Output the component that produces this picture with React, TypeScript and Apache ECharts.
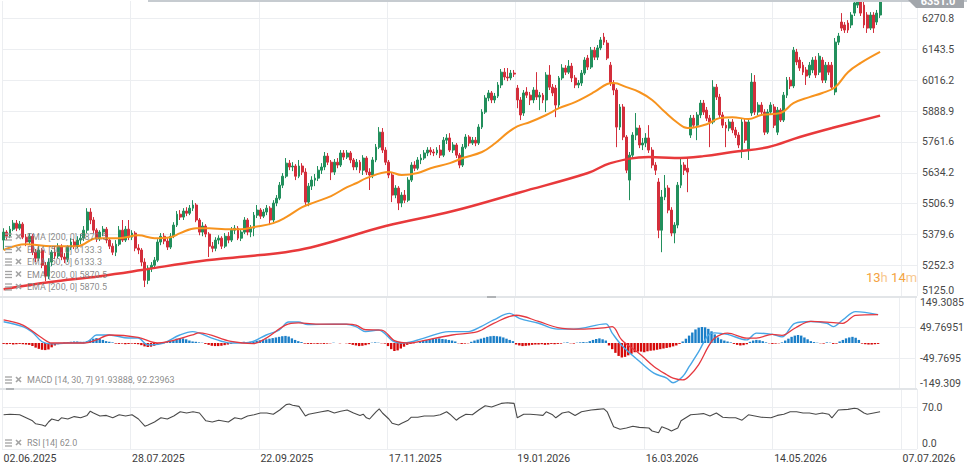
import React, { useEffect, useRef } from "react";
import * as echarts from "echarts";

const xTickLabels = ["02.06.2025", "28.07.2025", "22.09.2025", "17.11.2025", "19.01.2026", "16.03.2026", "14.05.2026", "07.07.2026"];
const priceTicks = [5125.0, 5252.3, 5379.6, 5506.9, 5634.2, 5761.6, 5888.9, 6016.2, 6143.5, 6270.8];
const macdTickLabels = ["-149.309", "-49.7695", "49.76951", "149.3085"];
const rsiTicks = [0, 70];
const holidays = ["2025-12-24", "2025-12-25", "2025-12-26", "2025-12-31", "2026-01-01", "2026-04-03", "2026-04-06", "2026-05-01"];

// [open, close, low, high]
const candles = [
  [5356,5389,5315,5405],[5389,5372,5356,5397],[5372,5401,5364,5414],[5401,5426,5393,5439],[5426,5405,5393,5439],
  [5405,5422,5397,5435],[5422,5368,5360,5430],[5368,5348,5331,5381],[5348,5372,5335,5385],[5372,5306,5294,5381],
  [5306,5281,5265,5319],[5281,5315,5269,5331],[5315,5252,5240,5323],[5252,5207,5186,5265],[5207,5265,5195,5281],
  [5265,5306,5248,5315],[5306,5290,5277,5327],[5290,5331,5281,5343],[5331,5286,5273,5339],[5286,5277,5261,5302],
  [5277,5327,5265,5335],[5327,5348,5315,5364],[5348,5331,5319,5360],[5331,5356,5323,5372],[5356,5364,5339,5381],
  [5364,5397,5352,5414],[5397,5472,5385,5488],[5472,5439,5422,5488],[5439,5397,5385,5451],[5397,5364,5348,5405],
  [5364,5389,5352,5397],[5389,5401,5372,5414],[5401,5356,5343,5410],[5356,5331,5319,5364],[5331,5306,5294,5343],
  [5306,5339,5290,5356],[5339,5397,5331,5414],[5397,5356,5348,5439],[5356,5401,5348,5414],[5401,5368,5356,5439],
  [5368,5385,5356,5397],[5385,5323,5310,5393],[5323,5315,5298,5339],[5315,5265,5248,5323],[5265,5190,5162,5281],
  [5190,5240,5174,5252],[5240,5252,5224,5265],[5252,5273,5240,5286],[5273,5348,5265,5360],[5348,5372,5335,5385],
  [5372,5352,5339,5385],[5352,5327,5315,5364],[5327,5372,5319,5385],[5372,5418,5364,5430],[5418,5463,5410,5476],
  [5463,5451,5439,5480],[5451,5476,5439,5488],[5476,5467,5455,5492],[5467,5488,5459,5501],[5488,5501,5476,5521],
  [5501,5439,5430,5509],[5439,5389,5376,5447],[5389,5414,5372,5430],[5414,5381,5368,5422],[5381,5331,5286,5389],
  [5331,5322,5306,5348],[5322,5356,5310,5368],[5356,5364,5339,5376],[5364,5331,5319,5372],[5331,5372,5323,5385],
  [5372,5356,5343,5389],[5356,5397,5348,5410],[5397,5405,5381,5418],[5405,5364,5356,5414],[5364,5389,5352,5401],
  [5389,5439,5381,5451],[5439,5389,5376,5447],[5389,5405,5368,5418],[5405,5459,5372,5472],[5459,5480,5447,5501],
  [5480,5455,5443,5488],[5455,5472,5447,5484],[5472,5488,5459,5501],[5488,5439,5418,5496],[5439,5509,5430,5521],
  [5509,5529,5496,5542],[5529,5583,5521,5596],[5583,5620,5571,5633],[5620,5674,5612,5695],[5674,5658,5645,5687],
  [5658,5662,5641,5678],[5662,5620,5604,5670],[5620,5662,5612,5687],[5662,5637,5625,5674],[5637,5513,5501,5653],
  [5513,5579,5496,5592],[5579,5604,5563,5620],[5604,5612,5579,5629],[5612,5645,5600,5662],[5645,5658,5629,5674],
  [5658,5703,5645,5720],[5703,5678,5666,5716],[5678,5637,5604,5687],[5637,5678,5625,5691],[5678,5666,5653,5695],
  [5666,5716,5658,5728],[5716,5699,5687,5728],[5699,5716,5691,5728],[5716,5687,5674,5724],[5687,5658,5645,5695],
  [5658,5678,5645,5691],[5678,5645,5633,5687],[5645,5695,5625,5707],[5695,5637,5625,5703],[5637,5625,5563,5653],
  [5625,5687,5612,5699],[5687,5740,5678,5753],[5740,5802,5732,5823],[5802,5728,5716,5819],[5728,5678,5666,5740],
  [5678,5625,5612,5687],[5625,5542,5513,5637],[5542,5571,5529,5583],[5571,5509,5480,5579],[5509,5542,5492,5554],
  [5542,5521,5509,5563],[5521,5604,5513,5616],[5604,5666,5596,5678],[5666,5653,5641,5682],[5653,5687,5645,5699],
  [5687,5695,5670,5711],[5695,5716,5687,5728],[5716,5728,5703,5740],[5728,5720,5707,5740],[5720,5716,5703,5732],
  [5716,5728,5707,5740],[5728,5707,5695,5749],[5707,5769,5699,5782],[5769,5778,5753,5794],[5778,5728,5720,5798],
  [5728,5749,5716,5761],[5749,5707,5695,5757],[5707,5666,5653,5716],[5666,5740,5658,5753],[5740,5782,5732,5794],
  [5782,5757,5744,5790],[5757,5769,5749,5782],[5769,5757,5744,5782],[5757,5823,5749,5835],[5823,5885,5815,5897],
  [5885,5943,5877,5955],[5943,5964,5930,5976],[5964,5935,5922,5972],[5935,5951,5922,5964],[5951,5997,5943,6009],
  [5997,6050,5984,6063],[6050,6030,6017,6067],[6030,6026,6013,6067],[6026,6046,6017,6059],[6046,6042,6030,6059],
  [5984,5935,5901,5997],[5935,5873,5852,5947],[5881,5964,5869,5976],[5968,5955,5943,5988],[5955,5935,5914,5968],
  [5935,5976,5922,5988],[5976,5947,5935,6050],[5947,5955,5893,5968],[5955,5935,5922,5964],[5935,6038,5885,6050],
  [6038,5988,5976,6079],[5988,5964,5951,6001],[5984,5914,5864,5997],[5914,6026,5901,6034],[6026,6067,6017,6083],
  [6067,6050,6038,6079],[6050,6075,6042,6100],[6075,6026,6009,6088],[6026,5997,5984,6038],[5997,6005,5984,6017],
  [6005,6046,5993,6059],[6046,6100,6038,6112],[6108,6071,6059,6121],[6071,6141,6063,6154],[6141,6112,6100,6154],
  [6112,6150,6100,6162],[6150,6183,6141,6195],[6195,6174,6162,6212],[6170,6108,6100,6183],[6079,6005,5993,6092],
  [6005,5976,5955,6017],[5976,5823,5740,5984],[5823,5906,5811,5918],[5906,5782,5769,5918],[5782,5645,5633,5790],
  [5604,5707,5521,5720],[5707,5790,5695,5802],[5790,5819,5769,5881],[5819,5749,5736,5831],[5749,5757,5728,5778],
  [5757,5778,5740,5798],[5778,5728,5716,5831],[5728,5666,5653,5740],[5666,5645,5625,5678],[5596,5397,5364,5612],
  [5397,5534,5306,5563],[5534,5571,5521,5625],[5571,5480,5467,5583],[5480,5385,5372,5492],[5385,5418,5343,5430],
  [5418,5583,5405,5596],[5583,5666,5571,5695],[5666,5645,5625,5678],[5653,5637,5554,5695],[5790,5860,5778,5873],
  [5860,5831,5819,5873],[5831,5873,5769,5885],[5873,5922,5860,5935],[5922,5885,5873,5935],[5893,5860,5848,5906],
  [5860,5844,5740,5873],[5844,5988,5835,6017],[5988,5947,5935,6001],[5947,5873,5860,5960],[5873,5831,5819,5885],
  [5831,5819,5740,5844],[5819,5844,5806,5856],[5844,5811,5798,5856],[5811,5790,5778,5823],[5790,5749,5736,5802],
  [5728,5844,5695,5856],[5844,5769,5757,5856],[5728,5844,5687,5856],[5881,6009,5869,6046],[6009,5885,5873,6038],
  [5885,5914,5873,5926],[5914,5885,5873,5926],[5885,5802,5790,5897],[5802,5885,5794,5897],[5885,5914,5873,5926],
  [5906,5831,5819,5918],[5802,5893,5790,5906],[5893,5852,5844,5901],[5852,5955,5844,5968],[5955,6017,5943,6030],
  [6017,5993,5980,6030],[5993,6141,5984,6154],[6133,6092,6079,6146],[6100,6067,6055,6112],[6079,6050,6038,6092],
  [6059,6034,5997,6071],[6038,6079,6026,6092],[6059,6100,6046,6112],[6100,6038,6026,6116],[6050,6116,6038,6129],
  [6100,6017,6005,6112],[6017,6079,6005,6092],[6079,6050,6038,6092],[6079,5988,5976,6092],[5968,6174,5955,6191],
  [6174,6199,6162,6212],[6257,6232,6220,6294],[6245,6224,6212,6257],[6253,6224,6212,6265],[6245,6286,6232,6298],
  [6294,6336,6282,6348],[6327,6348,6315,6360],[6340,6294,6282,6356],[6327,6245,6232,6340],[6286,6232,6212,6298],
  [6232,6286,6224,6298],[6286,6232,6212,6298],[6257,6294,6245,6307],[6286,6351,6274,6360]
];

// [bar index, value]
const ema50 = [
  [0,5315],[7,5339],[15,5331],[23,5331],[29,5364],[36,5364],[42,5376],[47,5364],[52,5368],[55,5385],
  [60,5405],[64,5405],[69,5401],[74,5401],[78,5410],[84,5426],[88,5451],[93,5492],[97,5513],[102,5538],
  [107,5575],[110,5592],[113,5612],[120,5637],[124,5625],[129,5633],[133,5653],[139,5674],[143,5695],[149,5720],
  [153,5755],[157,5800],[160,5826],[164,5844],[169,5873],[173,5901],[178,5926],[184,5968],[188,6001],[190,6005],
  [194,5988],[198,5968],[202,5935],[206,5885],[210,5840],[213,5819],[219,5835],[223,5860],[227,5864],[232,5856],
  [236,5873],[242,5881],[246,5922],[251,5947],[255,5964],[259,5988],[263,6050],[267,6088],[273,6133.3]
];
const ema200 = [
  [0,5153],[14,5182],[30,5207],[43,5232],[61,5269],[80,5294],[92,5315],[102,5348],[119,5414],[140,5476],
  [161,5554],[182,5633],[189,5674],[201,5699],[209,5695],[218,5703],[227,5720],[238,5740],[248,5782],[258,5819],
  [273,5870.5]
];
const macdLine = [
  [0,69],[6,53],[9,35],[12,4],[15,-3],[20,0],[25,0],[27,10],[29,26],[33,26],[39,16],[42,16],[45,-6],[49,-3],
  [55,26],[59,37],[65,16],[71,0],[77,3],[82,26],[86,42],[89,68],[92,68],[95,60],[103,61],[107,61],[110,53],
  [113,37],[117,42],[122,4],[125,0],[131,15],[139,37],[145,37],[149,53],[153,75],[158,96],[161,80],[167,64],
  [173,45],[178,45],[188,62],[190,32],[193,-8],[198,-55],[203,-98],[207,-114],[209,-129],[212,-109],[214,-77],
  [217,-28],[220,26],[222,33],[226,28],[232,10],[235,32],[240,28],[243,20],[247,64],[252,70],[257,64],[259,53],
  [262,75],[266,102],[273,91.94]
];
const signalLine = [
  [0,75],[6,58],[12,16],[15,0],[20,0],[25,0],[29,10],[33,26],[42,18],[48,0],[59,26],[61,33],[71,5],[78,-2],
  [82,16],[88,58],[92,65],[99,61],[107,61],[110,58],[113,43],[118,42],[122,8],[127,0],[131,8],[140,26],[148,37],
  [153,64],[160,90],[167,70],[173,50],[180,45],[188,50],[190,53],[193,10],[199,-39],[203,-76],[207,-103],
  [209,-114],[212,-120],[214,-108],[217,-70],[220,-12],[222,16],[226,32],[232,16],[235,16],[240,28],[243,25],
  [247,48],[252,70],[257,68],[262,64],[266,90],[273,92.24]
];
const histogram = [
  -3,-4,-3,-5,-4,-3,-4,-5,-6,
  -10,-15,-19,-22,-23,-21,-14,
  -8,-4,-1,
  2,3,4,5,5,4,4,6,
  10,14,16,14,10,
  6,4,2,
  -2,-3,-2,-4,-3,-2,-3,-4,
  -7,-11,-13,-12,-9,-5,
  -3,-1,
  3,7,10,14,16,15,12,8,
  5,4,2,1,
  -3,-6,-9,-10,-10,-9,-7,-5,-3,
  1,2,3,4,3,4,5,
  7,9,11,12,14,16,18,20,22,23,21,
  15,10,6,3,
  -2,-3,-3,-2,-3,-2,-3,-2,-1,
  1,0,-1,0,-1,
  -3,-6,-8,-10,-9,-7,-4,
  1,2,1,-1,-2,
  -10,-20,-26,-24,-18,-12,-6,
  -3,-1,1,
  4,7,10,12,14,15,15,13,12,10,8,5,
  -1,-3,-2,-1,
  4,8,11,
  14,17,20,22,23,22,21,18,14,10,6,
  -5,-8,-10,-9,-8,
  -6,-5,-5,-4,-6,-5,-3,-4,-3,-2,
  1,2,-1,-2,1,2,3,2,
  6,10,13,15,12,8,
  -8,-20,-32,-42,-47,-45,-40,-35,-30,-28,
  -28,-30,-27,-25,-24,-22,-20,-18,-16,-14,-11,-8,
  -3,5,14,24,34,44,50,52,51,46,38,28,18,
  12,8,5,2,
  -3,-6,-8,-7,-4,
  4,8,10,9,6,
  2,-1,-3,-2,-1,2,
  8,14,20,24,26,24,18,12,
  6,3,1,-1,-2,2,1,-3,-2,
  5,10,15,18,20,17,10,
  -2,-4,-5,-5,-4,-3
];
const rsi = [
  [0,57],[2,58],[5,57],[7,52],[9,47],[10,42],[12,40],[13,38],[14,45],[15,50],[17,47],[18,52],[20,50],[22,54],
  [24,52],[26,56],[27,63],[28,60],[30,55],[32,56],[34,52],[36,57],[38,55],[40,57],[42,50],[44,38],[45,40],
  [47,45],[49,52],[51,50],[53,55],[55,62],[57,60],[59,62],[61,60],[63,47],[65,45],[67,48],[70,45],[72,52],
  [74,50],[76,55],[78,57],[80,60],[82,60],[84,58],[86,65],[88,74],[89,75],[90,73],[92,71],[94,55],[95,58],
  [97,60],[99,62],[101,64],[103,60],[105,63],[107,65],[109,60],[111,56],[112,58],[113,52],[114,50],[115,56],
  [116,62],[117,67],[118,60],[120,50],[121,43],[123,40],[124,43],[126,48],[127,53],[129,53],[131,55],[134,55],
  [136,57],[138,62],[139,58],[141,48],[142,52],[144,58],[146,57],[148,65],[150,72],[152,70],[155,76],[157,77],
  [159,76],[160,52],[162,58],[164,58],[166,57],[168,56],[169,62],[171,57],[172,52],[174,60],[176,62],[178,56],
  [180,62],[183,65],[185,66],[187,67],[188,62],[190,37],[192,33],[194,35],[196,38],[198,36],[201,35],[202,30],
  [204,27],[205,37],[207,33],[208,30],[210,35],[211,47],[214,57],[216,58],[218,59],[220,55],[222,60],[224,53],
  [226,52],[228,52],[230,48],[232,57],[234,55],[236,53],[239,52],[241,56],[243,58],[245,62],[247,62],[249,60],
  [251,60],[253,58],[255,60],[257,58],[258,52],[260,65],[263,66],[265,68],[266,67],[268,60],[269,58],[271,60],
  [273,62]
];

const CATEGORY_COUNT = 285;

function buildDays(n: number): string[] {
  const skip = new Set(holidays);
  const out: string[] = [];
  const d = new Date(Date.UTC(2025, 5, 2));
  while (out.length < n) {
    const wd = d.getUTCDay();
    const iso = d.toISOString().slice(0, 10);
    if (wd !== 0 && wd !== 6 && !skip.has(iso)) {
      out.push(`${iso.slice(8, 10)}.${iso.slice(5, 7)}.${iso.slice(0, 4)}`);
    }
    d.setUTCDate(d.getUTCDate() + 1);
  }
  return out;
}

const FONT = "Roboto, sans-serif";
const GRID_COLOR = "#eceef1";
const UP = "#228f5c";
const DOWN = "#d32e3b";

function legendRow(y: number, text: string) {
  const c = "#a3a3a3";
  return [
    { type: "line", shape: { x1: 5, y1: y - 3, x2: 12, y2: y - 3 }, style: { stroke: c, lineWidth: 1.3 }, z: 20 },
    { type: "line", shape: { x1: 5, y1: y, x2: 12, y2: y }, style: { stroke: c, lineWidth: 1.3 }, z: 20 },
    { type: "line", shape: { x1: 5, y1: y + 3, x2: 12, y2: y + 3 }, style: { stroke: c, lineWidth: 1.3 }, z: 20 },
    { type: "line", shape: { x1: 16, y1: y - 3, x2: 21, y2: y + 2 }, style: { stroke: c, lineWidth: 1.6 }, z: 20 },
    { type: "line", shape: { x1: 21, y1: y - 3, x2: 16, y2: y + 2 }, style: { stroke: c, lineWidth: 1.6 }, z: 20 },
    { type: "text", x: 27, y, style: { text, fill: "rgba(125,125,125,0.9)", fontSize: 9, fontFamily: FONT, verticalAlign: "middle" }, z: 20 },
  ];
}

export default function App() {
  const ref = useRef<HTMLDivElement>(null);
  useEffect(() => {
    if (!ref.current) return;
    const chart = echarts.init(ref.current, undefined, { renderer: "svg" });
    const categories = buildDays(CATEGORY_COUNT);
    const macdTickValues = macdTickLabels.map((s) => parseFloat(s));

    const xAxisFor = (gi: number, showLabel: boolean) => ({
      type: "category",
      gridIndex: gi,
      data: categories,
      boundaryGap: true,
      axisLine: { show: false },
      axisTick: { show: false },
      axisLabel: showLabel
        ? {
            interval: (i: number) => i % 40 === 0,
            formatter: (_v: string, i: number) => xTickLabels[Math.round(i / 40)] ?? "",
            align: "left",
            color: "#3c3c3c",
            fontSize: 10.5,
            fontFamily: FONT,
            margin: 4,
          }
        : { show: false },
      splitLine: { show: true, interval: (i: number) => i % 40 === 0, lineStyle: { color: GRID_COLOR, width: 1 } },
    });

    const yLabelBase = { color: "#474747", fontSize: 10.5, fontFamily: FONT, margin: 5 };

    const graphics: any[] = [
      { type: "line", shape: { x1: 148, y1: 1, x2: 967, y2: 1 }, style: { stroke: "#c6cbd0", lineWidth: 2 }, z: 10 },
      { type: "line", shape: { x1: 0, y1: 297, x2: 917, y2: 297 }, style: { stroke: "#e2e5e8", lineWidth: 2 }, z: 10 },
      { type: "line", shape: { x1: 0, y1: 389, x2: 917, y2: 389 }, style: { stroke: "#e2e5e8", lineWidth: 2 }, z: 10 },
      { type: "line", shape: { x1: 487, y1: 297, x2: 496, y2: 297 }, style: { stroke: "#b0b3b6", lineWidth: 2 }, z: 11 },
      { type: "line", shape: { x1: 6, y1: 389, x2: 14, y2: 389 }, style: { stroke: "#b0b3b6", lineWidth: 2 }, z: 11 },
      {
        type: "polygon",
        shape: { points: [[908, -12], [964, -12], [964, 8], [916, 8], [908, 0]] },
        style: { fill: "#a2a6ab" },
        z: 12,
      },
      { type: "text", x: 938, y: 1, style: { text: "6351.0", fill: "#ffffff", fontSize: 11, fontFamily: FONT, fontWeight: "bold", align: "center", verticalAlign: "middle" }, z: 13 },
      {
        type: "text",
        x: 866,
        y: 277,
        style: {
          text: "{a|13}{b|h} {a|14}{b|m}",
          verticalAlign: "middle",
          rich: {
            a: { fill: "#f4a340", fontSize: 13, fontFamily: FONT },
            b: { fill: "#f8c88f", fontSize: 13, fontFamily: FONT },
          },
        },
        z: 13,
      },
      ...legendRow(237, "EMA [200, 0] 5870.5"),
      ...legendRow(249.5, "EMA [50, 0] 6133.3"),
      ...legendRow(262, "EMA [50, 0] 6133.3"),
      ...legendRow(274.5, "EMA [200, 0] 5870.5"),
      ...legendRow(287, "EMA [200, 0] 5870.5"),
      ...legendRow(380, "MACD [14, 30, 7] 91.93888, 92.23963"),
      ...legendRow(443, "RSI [14] 62.0"),
    ];

    chart.setOption({
      animation: false,
      backgroundColor: "#ffffff",
      grid: [
        { left: 2, right: 50, top: 1, height: 295 },
        { left: 2, right: 50, top: 297, height: 92 },
        { left: 2, right: 50, top: 389, height: 60 },
      ],
      xAxis: [xAxisFor(0, false), xAxisFor(1, false), xAxisFor(2, true)],
      yAxis: [
        {
          type: "value",
          gridIndex: 0,
          position: "right",
          min: 5125,
          max: 6344,
          axisLine: { show: false },
          axisTick: { show: false, customValues: priceTicks },
          axisLabel: { ...yLabelBase, customValues: priceTicks, formatter: (v: number) => v.toFixed(1), verticalAlignMinLabel: "bottom" },
          splitLine: { show: true, lineStyle: { color: GRID_COLOR } },
        },
        {
          type: "value",
          gridIndex: 1,
          position: "right",
          min: macdTickValues[0],
          max: macdTickValues[3],
          axisLine: { show: false },
          axisTick: { show: false, customValues: macdTickValues },
          axisLabel: {
            ...yLabelBase,
            customValues: macdTickValues,
            formatter: (v: number) => {
              let best = 0;
              macdTickValues.forEach((t, k) => {
                if (Math.abs(t - v) < Math.abs(macdTickValues[best] - v)) best = k;
              });
              return macdTickLabels[best];
            },
            verticalAlignMinLabel: "bottom",
            verticalAlignMaxLabel: "top",
          },
          splitLine: { show: true, lineStyle: { color: GRID_COLOR } },
        },
        {
          type: "value",
          gridIndex: 2,
          position: "right",
          min: 0,
          max: 100,
          axisLine: { show: false },
          axisTick: { show: false, customValues: rsiTicks },
          axisLabel: { ...yLabelBase, customValues: rsiTicks, formatter: (v: number) => v.toFixed(1), verticalAlignMinLabel: "bottom" },
          splitLine: { show: true, lineStyle: { color: GRID_COLOR } },
        },
      ],
      series: [
        {
          type: "candlestick",
          xAxisIndex: 0,
          yAxisIndex: 0,
          data: candles,
          barWidth: 2.4,
          itemStyle: { color: UP, color0: DOWN, borderColor: UP, borderColor0: DOWN, borderWidth: 1 },
          z: 2,
        },
        {
          type: "line",
          xAxisIndex: 0,
          yAxisIndex: 0,
          data: ema50,
          smooth: 0.4,
          showSymbol: false,
          lineStyle: { color: "#f7931e", width: 2 },
          z: 3,
        },
        {
          type: "line",
          xAxisIndex: 0,
          yAxisIndex: 0,
          data: ema200,
          smooth: 0.4,
          showSymbol: false,
          lineStyle: { color: "#e8393b", width: 2.5 },
          z: 3,
        },
        {
          type: "bar",
          xAxisIndex: 1,
          yAxisIndex: 1,
          data: histogram,
          barWidth: 2.4,
          itemStyle: { color: (p: any) => (p.value >= 0 ? "#1b7fc8" : "#d60a0a") },
          z: 2,
        },
        {
          type: "line",
          xAxisIndex: 1,
          yAxisIndex: 1,
          data: macdLine,
          smooth: 0.35,
          showSymbol: false,
          lineStyle: { color: "#47a6e6", width: 1.4 },
          z: 3,
        },
        {
          type: "line",
          xAxisIndex: 1,
          yAxisIndex: 1,
          data: signalLine,
          smooth: 0.35,
          showSymbol: false,
          lineStyle: { color: "#e5383f", width: 1.3 },
          z: 3,
        },
        {
          type: "line",
          xAxisIndex: 2,
          yAxisIndex: 2,
          data: rsi,
          showSymbol: false,
          lineStyle: { color: "#4a4a4a", width: 1.1 },
          z: 3,
        },
      ],
      graphic: graphics,
    });
    return () => chart.dispose();
  }, []);

  return <div ref={ref} style={{ position: "absolute", left: 0, top: 0, width: 967, height: 470 }} />;
}
